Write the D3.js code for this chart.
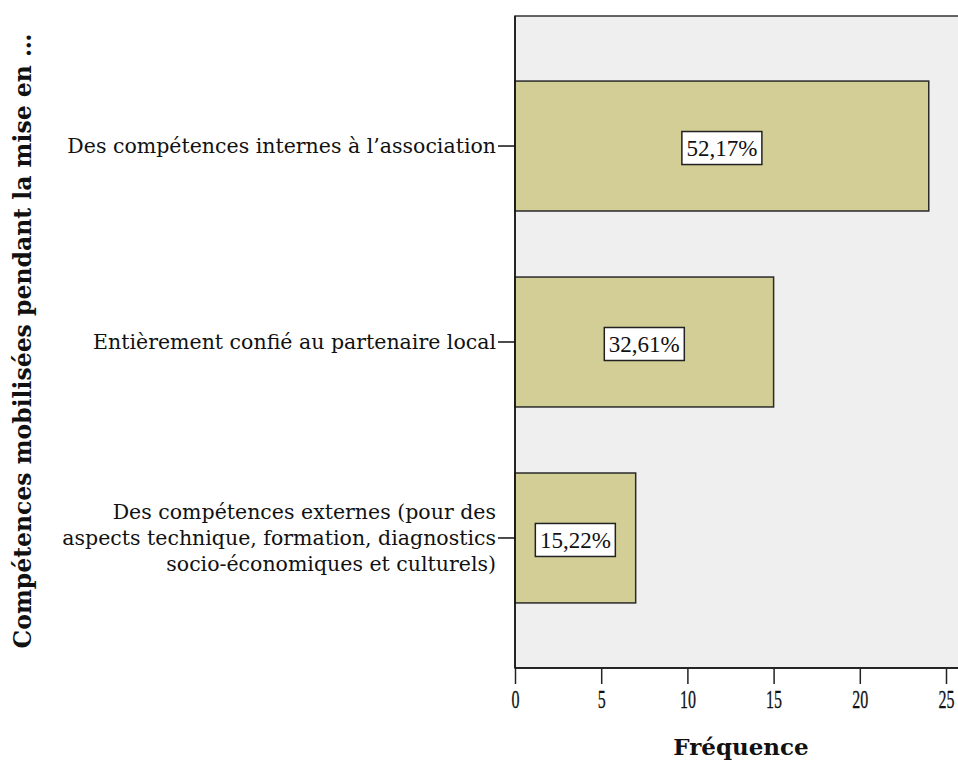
<!DOCTYPE html>
<html><head><meta charset="utf-8">
<script src="https://cdn.jsdelivr.net/npm/d3@7"></script>
<style>
html,body{margin:0;padding:0;background:#fff;}
svg{display:block;}
</style></head>
<body>
<svg id="chart" width="958" height="760"></svg>
<script>
const categories = [
  ["Des compétences internes à l’association"],
  ["Entièrement confié au partenaire local"],
  ["Des compétences externes (pour des", "aspects technique, formation, diagnostics", "socio-économiques et culturels)"]
];
const frequencies = [24, 15, 7];
const percentLabels = ["52,17%", "32,61%", "15,22%"];
const xTicks = [0, 5, 10, 15, 20, 25];
const xTitle = "Fréquence";
const yTitle = "Compétences mobilisées pendant la mise en …";

(function(){
const svg = d3.select("#chart");
const pL = 515, pT = 16, pB = 668, pR = 967;
const serif = "'DejaVu Serif', 'Liberation Serif', serif";
const numFont = "'Liberation Serif', 'Times New Roman', serif";

const x = d3.scaleLinear().domain([0, 25]).range([pL, 946]);
const y = d3.scaleBand().domain(d3.range(categories.length))
  .range([pT, pB]).paddingInner(0.337).paddingOuter(0.332);

svg.append("rect").attr("x", pL).attr("y", pT).attr("width", pR - pL).attr("height", pB - pT)
  .attr("fill", "#efefef").attr("stroke", "#333").attr("stroke-width", 1.5);

svg.append("g").selectAll("rect").data(frequencies).join("rect")
  .attr("x", x(0)).attr("y", (d, i) => y(i))
  .attr("width", d => x(d) - x(0)).attr("height", y.bandwidth())
  .attr("fill", "#d2ce96").attr("stroke", "#2a2a2a").attr("stroke-width", 1.5);

const lab = svg.append("g").selectAll("g").data(frequencies).join("g")
  .attr("transform", (d, i) => `translate(${(x(0) + x(d)) / 2},${y(i) + y.bandwidth() / 2 + 2})`);
lab.append("rect").attr("x", -40).attr("y", -16.5).attr("width", 80).attr("height", 33)
  .attr("fill", "#fff").attr("stroke", "#222").attr("stroke-width", 1.5);
lab.append("text").text((d, i) => percentLabels[i])
  .attr("text-anchor", "middle").attr("y", 8)
  .attr("font-family", numFont).attr("font-size", 23).attr("fill", "#111");

const xAxis = d3.axisBottom(x).tickValues(xTicks).tickSize(16).tickFormat(d3.format("d"));
const gx = svg.append("g").attr("transform", `translate(0,${pB})`).call(xAxis);
gx.select(".domain").attr("d", `M${pL},0H${pR}`).attr("stroke", "#111").attr("stroke-width", 1.5);
gx.selectAll(".tick line").attr("stroke", "#222").attr("stroke-width", 1.5);
gx.selectAll(".tick text").attr("font-family", numFont)
  .attr("font-size", 25).attr("fill", "#111").attr("y", 40).attr("dy", null)
  .attr("stroke", "#111").attr("stroke-width", 0.3)
  .attr("transform", "scale(0.64,1)");

const yAxis = d3.axisLeft(y).tickSize(17).tickPadding(2).tickFormat(() => "");
const gy = svg.append("g").attr("transform", `translate(${pL},0)`).call(yAxis);
gy.select(".domain").attr("stroke", "#111").attr("stroke-width", 1.5).attr("d", `M0,${pT}V${pB}`);
gy.selectAll(".tick line").attr("stroke", "#111").attr("stroke-width", 1.5);
gy.selectAll(".tick").each(function(d) {
  const lines = categories[d];
  const t = d3.select(this).append("text")
    .attr("text-anchor", "end").attr("font-family", serif).attr("font-size", 20.5).attr("fill", "#111");
  const lh = 26;
  lines.forEach((ln, k) => {
    t.append("tspan").attr("x", -19).attr("y", (k - (lines.length - 1) / 2) * lh).attr("dy", "0.35em").text(ln);
  });
});

svg.append("text").attr("x", 741).attr("y", 755).attr("text-anchor", "middle")
  .attr("font-family", serif).attr("font-weight", "bold").attr("font-size", 23).attr("fill", "#111")
  .text(xTitle);
svg.append("text").attr("transform", "translate(31,341) rotate(-90)").attr("text-anchor", "middle")
  .attr("font-family", serif).attr("font-weight", "bold").attr("font-size", 23.5).attr("fill", "#111")
  .text(yTitle);
})();
</script>
</body></html>
